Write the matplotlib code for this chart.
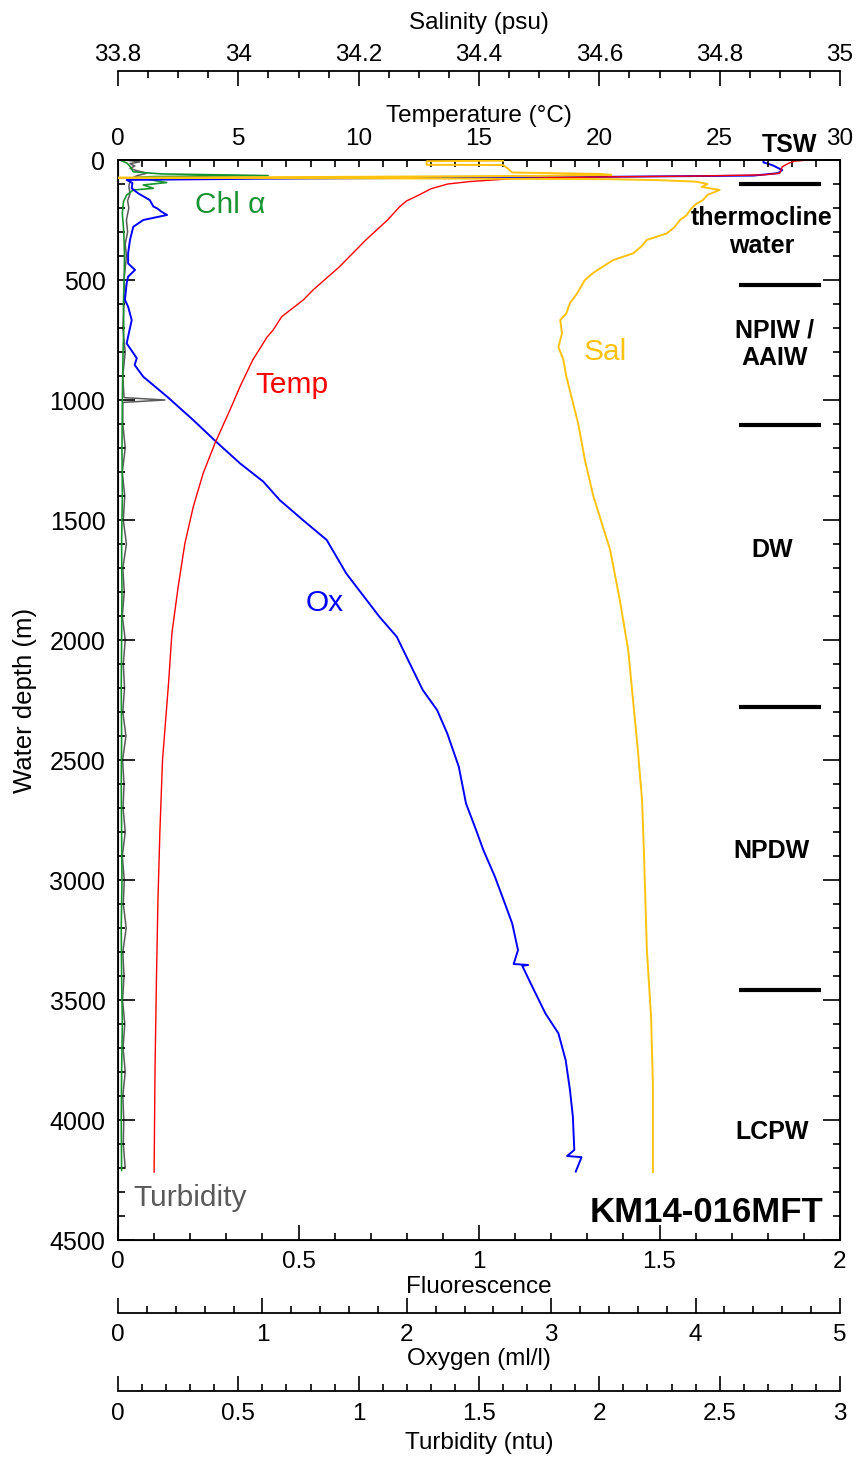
import matplotlib
matplotlib.use("Agg")
import matplotlib.pyplot as plt
from matplotlib.ticker import MultipleLocator, FuncFormatter

# CTD profile, station KM14-016MFT
temp_depth = [0, 5, 12, 28, 55, 62, 67, 70, 74, 79, 90, 100, 120, 146, 170, 195,
              250, 333, 445, 542, 583, 653, 708, 737, 833, 944, 1042, 1180, 1305,
              1444, 1597, 1778, 1972, 2180, 2500, 2800, 3083, 3400, 3778, 4217]
temp_c = [28.7, 28.1, 27.9, 27.6, 27.5, 26.8, 24.0, 20.6, 18.0, 16.2, 14.6, 13.7,
          13.0, 12.5, 12.0, 11.7, 11.2, 10.3, 9.2, 8.1, 7.7, 6.8, 6.45, 6.2, 5.6,
          5.07, 4.65, 4.03, 3.54, 3.13, 2.78, 2.5, 2.24, 2.1, 1.85, 1.74, 1.66,
          1.6, 1.54, 1.5]

sal_depth = [3, 5, 20, 21, 40, 52, 58, 62, 66, 70, 74, 77, 80, 84, 90, 100, 112,
             125, 145, 167, 185, 208, 230, 250, 280, 306, 333, 360, 389, 417, 444,
             472, 500, 556, 597, 640, 667, 722, 780, 830, 900, 1000, 1100, 1250,
             1400, 1625, 1833, 2042, 2250, 2458, 2667, 2875, 3292, 3569, 3847, 4217]
sal_psu = [34.44, 34.313, 34.313, 34.44, 34.45, 34.455, 34.6, 34.62, 34.5, 34.2,
           33.80, 34.3, 34.62, 34.70, 34.76, 34.78, 34.77, 34.80, 34.78, 34.772,
           34.76, 34.751, 34.745, 34.734, 34.725, 34.712, 34.679, 34.67, 34.656,
           34.623, 34.606, 34.589, 34.576, 34.563, 34.551, 34.545, 34.535, 34.538,
           34.532, 34.54, 34.545, 34.555, 34.565, 34.576, 34.59, 34.618, 34.634,
           34.648, 34.656, 34.664, 34.671, 34.674, 34.679, 34.686, 34.689, 34.689]

ox_depth = [0, 10, 21, 42, 55, 65, 72, 78, 83, 96, 118, 139, 167, 194, 201, 215,
            229, 250, 278, 333, 389, 431, 458, 486, 514, 583, 611, 667, 708, 764,
            826, 854, 903, 986, 1083, 1174, 1264, 1340, 1417, 1500, 1583, 1722,
            1903, 1986, 2097, 2208, 2292, 2389, 2528, 2681, 2792, 2875, 2986, 3083,
            3181, 3292, 3350, 3354, 3358, 3458, 3556, 3639, 3750, 3875, 3986, 4125,
            4150, 4155, 4215]
ox_mll = [4.47, 4.47, 4.53, 4.6, 4.57, 4.4, 3.0, 1.0, 0.06, 0.1, 0.095, 0.14,
          0.22, 0.245, 0.27, 0.30, 0.34, 0.175, 0.106, 0.083, 0.07, 0.07, 0.118,
          0.07, 0.06, 0.048, 0.07, 0.095, 0.08, 0.06, 0.13, 0.115, 0.175, 0.34,
          0.52, 0.68, 0.845, 1.006, 1.12, 1.28, 1.445, 1.58, 1.81, 1.93, 2.02,
          2.11, 2.21, 2.28, 2.36, 2.41, 2.48, 2.53, 2.61, 2.67, 2.73, 2.77, 2.74,
          2.84, 2.80, 2.88, 2.96, 3.05, 3.10, 3.13, 3.15, 3.16, 3.11, 3.21, 3.17]

chl_depth = [0, 13, 30, 49, 58, 65, 69, 72, 80, 94, 104, 118, 125, 146, 174, 222,
             300, 400, 500, 600, 700, 800, 900, 1000, 1200, 1400, 1600, 1800,
             2000, 2200, 2400, 2600, 2800, 3000, 3200, 3400, 3600, 3800, 4000, 4210]
chl_fluo = [0.005, 0.025, 0.035, 0.042, 0.12, 0.416, 0.1, 0.052, 0.08, 0.135,
            0.07, 0.098, 0.042, 0.024, 0.015, 0.012, 0.016, 0.018, 0.017, 0.015,
            0.016, 0.014, 0.013, 0.012, 0.011, 0.012, 0.010, 0.011, 0.010, 0.009,
            0.010, 0.009, 0.010, 0.011, 0.009, 0.010, 0.012, 0.010, 0.009, 0.010]

turb_depth = [0, 8, 15, 25, 35, 45, 55, 65, 75, 90, 110, 140, 170, 200, 250, 300,
              350, 400, 450, 500, 550, 600, 700, 800, 900, 990, 1000, 1010] + \
             list(range(1100, 4201, 100))
turb_ntu = [0.03, 0.09, 0.05, 0.07, 0.05, 0.08, 0.12, 0.08, 0.06, 0.05, 0.045,
            0.05, 0.04, 0.045, 0.035, 0.04, 0.03, 0.035, 0.03, 0.025, 0.03, 0.025,
            0.02, 0.03, 0.02, 0.025, 0.195, 0.02,
            0.02, 0.03, 0.018, 0.028, 0.022, 0.035, 0.02, 0.026, 0.018, 0.03,
            0.022, 0.027, 0.02, 0.033, 0.019, 0.025, 0.021, 0.03, 0.018, 0.026,
            0.022, 0.034, 0.02, 0.025, 0.019, 0.028, 0.021, 0.03, 0.02, 0.024,
            0.022, 0.03]

# water mass boundaries (m)
mass_bounds = [100, 520, 1105, 2280, 3460]
mass_names = ["TSW", "thermocline\nwater", "NPIW /\nAAIW", "DW", "NPDW", "LCPW"]

C_TEMP = "#ff0000"
C_SAL = "#ffc20e"
C_OX = "#0000ff"
C_CHL = "#1a9433"
C_TURB = "#5a5a5a"

plt.rcParams["font.family"] = ["Liberation Sans", "DejaVu Sans"]

fmt = FuncFormatter(lambda v, p: f"{v:g}")


def x_axis(a, side, lo, hi, major, minor, title, pad, labelpad,
           offset=None, major_len=10.5, minor_len=5):
    a.set_xlim(lo, hi)
    a.xaxis.set_ticks_position(side)
    a.xaxis.set_label_position(side)
    a.xaxis.set_major_locator(MultipleLocator(major))
    a.xaxis.set_minor_locator(MultipleLocator(minor))
    a.xaxis.set_major_formatter(fmt)
    a.tick_params(axis="x", which="both", direction="in", width=1.2,
                  labelsize=17.5, pad=pad)
    a.tick_params(axis="x", which="major", length=major_len)
    a.tick_params(axis="x", which="minor", length=minor_len)
    a.set_xlabel(title, fontsize=17.5, labelpad=labelpad)
    if offset is not None:
        for s in a.spines.values():
            s.set_visible(False)
        a.spines[side].set_visible(True)
        a.spines[side].set_position(("outward", offset))
    a.spines[side].set_linewidth(1.3)


fig = plt.figure(figsize=(8.56, 14.57), dpi=100)
ax = fig.add_axes([118 / 856, 1 - 1240 / 1457, 722 / 856, 1080 / 1457])
ax.patch.set_visible(False)

ax_tu = ax.twiny()
ax_o = ax.twiny()
ax_t = ax.twiny()
ax_s = ax.twiny()
for z, a in enumerate([ax_tu, ax, ax_o, ax_t, ax_s]):
    a.set_zorder(z + 1)

ax.set_ylim(4500, 0)
ax.yaxis.set_major_locator(MultipleLocator(500))
ax.yaxis.set_minor_locator(MultipleLocator(100))
ax.tick_params(axis="y", which="both", direction="in", left=True, right=True,
               width=1.2, labelsize=18, pad=9)
ax.tick_params(axis="y", which="major", length=12)
ax.tick_params(axis="y", which="minor", length=5)
ax.set_ylabel("Water depth (m)", fontsize=18.5, labelpad=9)
for s in ax.spines.values():
    s.set_linewidth(1.3)

x_axis(ax, "bottom", 0, 2, 0.5, 0.1, "Fluorescence", 8, 2)
x_axis(ax_t, "top", 0, 30, 5, 1, "Temperature (\u00b0C)", 7.5, 4, major_len=5)
x_axis(ax_s, "top", 33.8, 35, 0.2, 0.05, "Salinity (psu)", 4, 10.5, offset=64)
x_axis(ax_o, "bottom", 0, 5, 1, 0.2, "Oxygen (ml/l)", 8, 1.5, offset=52.6)
x_axis(ax_tu, "bottom", 0, 3, 0.5, 0.1, "Turbidity (ntu)", 9, 5, offset=108.7)

# profiles, each on its own scale
ax_tu.plot(turb_ntu, turb_depth, color=C_TURB, lw=1.1)
ax.plot(chl_fluo, chl_depth, color=C_CHL, lw=1.2)
ax_o.plot(ox_mll, ox_depth, color=C_OX, lw=1.4)
ax_t.plot(temp_c, temp_depth, color=C_TEMP, lw=1.0)
ax_s.plot(sal_psu, sal_depth, color=C_SAL, lw=1.4)

# water mass boundaries
ax_t.hlines(mass_bounds, 25.8, 29.2, color="black", lw=3)
label_xy = [(27.92, -62), (26.75, 300), (27.3, 767), (27.2, 1625), (27.17, 2879),
            (27.17, 4050)]
for name, (x, y) in zip(mass_names, label_xy):
    ax_t.text(x, y, name, ha="center", va="center", fontweight="bold",
              linespacing=1.2, clip_on=False, fontsize=18)

ax_t.text(4.65, 187, "Chl \u03b1", color=C_CHL, fontsize=21.5, ha="center", va="center")
ax_t.text(20.23, 800, "Sal", color=C_SAL, fontsize=21.5, ha="center", va="center")
ax_t.text(7.23, 937, "Temp", color=C_TEMP, fontsize=21.5, ha="center", va="center")
ax_t.text(8.6, 1846, "Ox", color=C_OX, fontsize=21.5, ha="center", va="center")
ax_t.text(0.62, 4325, "Turbidity", color=C_TURB, fontsize=21.5,
          ha="left", va="center")
ax_t.text(29.3, 4387, "KM14-016MFT", fontsize=25, fontweight="bold",
          ha="right", va="center")

fig.savefig("out.png", dpi=100, facecolor="white")
